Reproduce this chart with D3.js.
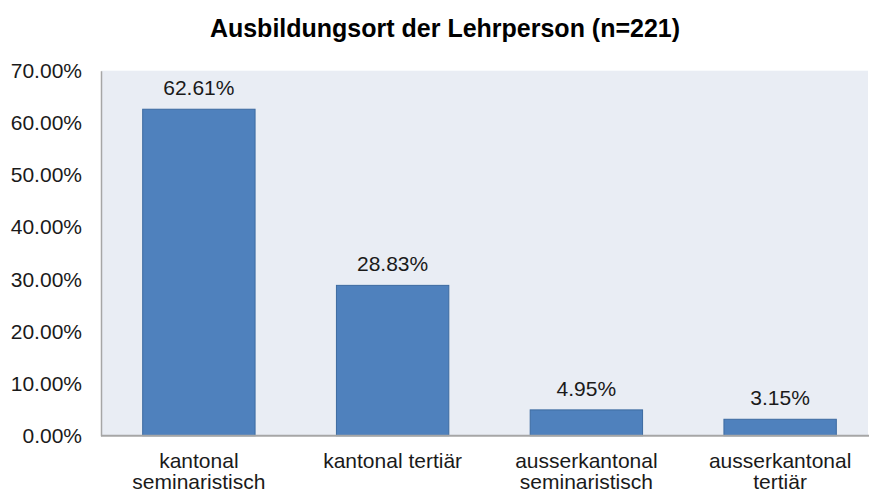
<!DOCTYPE html>
<html>
<head>
<meta charset="utf-8">
<script src="https://cdn.jsdelivr.net/npm/d3@7"></script>
<style>
  body { margin: 0; background: #fff; }
  text { font-family: "Liberation Sans", Arial, sans-serif; }
</style>
</head>
<body>
<svg id="chart"></svg>
<script>
// chart data
const categories = [
  ["kantonal", "seminaristisch"],
  ["kantonal tertiär"],
  ["ausserkantonal", "seminaristisch"],
  ["ausserkantonal", "tertiär"]
];
const values = [62.61, 28.83, 4.95, 3.15];
const yTicks = [0, 10, 20, 30, 40, 50, 60, 70];
const chartTitle = "Ausbildungsort der Lehrperson (n=221)";

const width = 869, height = 495;
const margin = {top: 70.7, right: 1, bottom: 59.3, left: 101};

const svg = d3.select("#chart")
  .attr("width", width)
  .attr("height", height);

// plot background
svg.append("rect")
  .attr("x", margin.left)
  .attr("y", margin.top)
  .attr("width", width - margin.left - margin.right)
  .attr("height", height - margin.top - margin.bottom)
  .attr("fill", "#e9edf4");

const xScale = d3.scaleBand()
  .domain(d3.range(values.length))
  .range([margin.left + 1, 877])
  .paddingInner(0.42)
  .paddingOuter(0.21);

const yScale = d3.scaleLinear()
  .domain([0, 70])
  .range([height - margin.bottom, margin.top]);

// bars
svg.selectAll("rect.bar")
  .data(values)
  .join("rect")
  .attr("class", "bar")
  .attr("x", (d, i) => xScale(i))
  .attr("y", d => yScale(d))
  .attr("width", xScale.bandwidth())
  .attr("height", d => yScale(0) - yScale(d))
  .attr("fill", "#4f81bd")
  .attr("stroke", "#3c6aa0")
  .attr("stroke-width", 1);

// value labels
svg.selectAll("text.val")
  .data(values)
  .join("text")
  .attr("class", "val")
  .attr("x", (d, i) => xScale(i) + xScale.bandwidth() / 2)
  .attr("y", d => yScale(d) - 14)
  .attr("text-anchor", "middle")
  .attr("font-size", "21px")
  .attr("fill", "#1a1a1a")
  .text(d => d.toFixed(2) + "%");

// y axis
const yAxis = d3.axisLeft(yScale)
  .tickValues(yTicks)
  .tickSize(0)
  .tickPadding(19)
  .tickFormat(d => d.toFixed(2) + "%");

const yAxisGroup = svg.append("g")
  .attr("transform", `translate(${margin.left},0)`)
  .call(yAxis);
yAxisGroup.select(".domain").attr("stroke", "#a6a6a6").attr("stroke-width", 1.5);
yAxisGroup.selectAll("text")
  .attr("font-size", "21px")
  .attr("fill", "#1a1a1a")
  .attr("font-family", "Liberation Sans, Arial, sans-serif");

// x axis line
svg.append("line")
  .attr("x1", margin.left)
  .attr("x2", width)
  .attr("y1", yScale(0))
  .attr("y2", yScale(0))
  .attr("stroke", "#a6a6a6")
  .attr("stroke-width", 2);

// category labels
const catLabels = svg.selectAll("text.cat")
  .data(categories)
  .join("text")
  .attr("class", "cat")
  .attr("text-anchor", "middle")
  .attr("font-size", "21px")
  .attr("fill", "#1a1a1a");

catLabels.each(function(lines, i) {
  const cx = xScale(i) + xScale.bandwidth() / 2;
  d3.select(this).selectAll("tspan")
    .data(lines)
    .join("tspan")
    .attr("x", cx)
    .attr("y", (d, j) => 468 + j * 21)
    .text(d => d);
});

// title
svg.append("text")
  .attr("x", 445)
  .attr("y", 37)
  .attr("text-anchor", "middle")
  .attr("font-size", "25px")
  .attr("font-weight", "bold")
  .attr("fill", "#000")
  .text(chartTitle);
</script>
</body>
</html>
